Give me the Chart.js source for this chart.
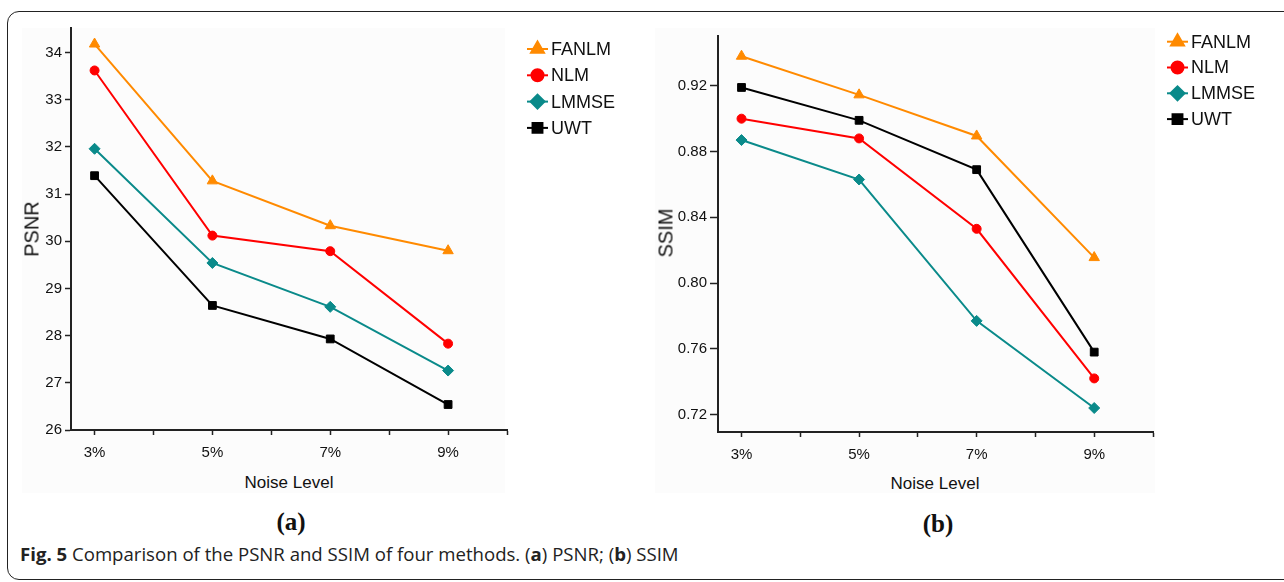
<!DOCTYPE html>
<html>
<head>
<meta charset="utf-8">
<script src="https://cdn.jsdelivr.net/npm/chart.js@4.4.1/dist/chart.umd.min.js"></script>
<style>
  body { margin: 0; background: #fff; width: 1284px; height: 582px; overflow: hidden; position: relative;
         font-family: "Liberation Sans", Arial, sans-serif; }
  .frame { position: absolute; left: 7px; top: 11px; width: 1310px; height: 569px; box-sizing: border-box;
           border: 1.5px solid #222; border-radius: 12px; }
  .panel { position: absolute; top: 28px; height: 465px; background: #fcfcfc; }
  canvas { position: absolute; top: 0; }
  .t { position: absolute; transform: translate(-50%, -50%); white-space: nowrap; color: #111; }
  .axt { font-size: 17px; }
  .rot { font-size: 20px; transform: translate(-50%, -50%) rotate(-90deg); }
  .sub { font-family: "Liberation Serif", "Times New Roman", serif; font-weight: bold; font-size: 25px; }
  .cap { position: absolute; left: 20px; top: 541px; font-family: "Open Sans", "Noto Sans", sans-serif;
         font-size: 18.6px; color: #222; white-space: nowrap; }
</style>
</head>
<body>
<div class="frame"></div>
<div class="panel" style="left:22px;width:483px"></div>
<div class="panel" style="left:655px;width:500px"></div>
<canvas id="chartPsnr" width="640" height="470" style="left:0"></canvas>
<canvas id="chartSsim" width="644" height="472" style="left:640px"></canvas>
<div class="t axt" style="left:289px;top:483px">Noise Level</div>
<div class="t axt" style="left:935px;top:484px">Noise Level</div>
<div class="t rot" style="left:32px;top:229px">PSNR</div>
<div class="t rot" style="left:666px;top:233px">SSIM</div>
<div class="t sub" style="left:291px;top:522px">(a)</div>
<div class="t sub" style="left:938px;top:524px">(b)</div>
<div class="cap"><b>Fig. 5</b> Comparison of the PSNR and SSIM of four methods. (<b>a</b>) PSNR; (<b>b</b>) SSIM</div>

<script>
// noise levels (%)
var noiseLevels = [3, 5, 7, 9];

// PSNR values
var psnrFANLM = [34.18, 31.28, 30.33, 29.80];
var psnrNLM   = [33.62, 30.12, 29.79, 27.83];
var psnrLMMSE = [31.96, 29.54, 28.61, 27.26];
var psnrUWT   = [31.39, 28.64, 27.93, 26.54];

// SSIM values
var ssimFANLM = [0.938, 0.9145, 0.8895, 0.8155];
var ssimNLM   = [0.900, 0.888, 0.833, 0.742];
var ssimLMMSE = [0.887, 0.863, 0.777, 0.724];
var ssimUWT   = [0.919, 0.899, 0.869, 0.758];

var ORANGE = '#ff8a00', RED = '#ff0000', TEAL = '#0a8a8a', BLACK = '#000000';

Chart.defaults.font.family = '"Liberation Sans", Arial, sans-serif';
Chart.defaults.color = '#111';

function pts(values) {
  return noiseLevels.map(function (x, i) { return { x: x, y: values[i] }; });
}

function series(label, values, color, style, radius) {
  return {
    label: label,
    data: pts(values),
    borderColor: color,
    backgroundColor: color,
    borderWidth: 2,
    pointStyle: style,
    pointRadius: radius,
    pointBackgroundColor: color,
    pointBorderColor: color,
    pointBorderWidth: 1,
    tension: 0
  };
}

function drawMarker(ctx, style, x, y, r, color) {
  ctx.fillStyle = color;
  ctx.strokeStyle = color;
  if (Chart.helpers && Chart.helpers.drawPoint) {
    Chart.helpers.drawPoint(ctx, { pointStyle: style, radius: r, rotation: 0, borderWidth: 1 }, x, y);
  } else {
    ctx.beginPath(); ctx.arc(x, y, r, 0, Math.PI * 2); ctx.fill();
  }
}

var insideLegend = {
  id: 'insideLegend',
  afterDatasetsDraw: function (chart, args, opts) {
    var ctx = chart.ctx;
    ctx.save();
    ctx.font = '18px "Liberation Sans", Arial, sans-serif';
    ctx.textBaseline = 'middle';
    chart.data.datasets.forEach(function (ds, i) {
      var y = opts.y + i * opts.gap;
      ctx.strokeStyle = ds.borderColor;
      ctx.lineWidth = 2;
      ctx.beginPath(); ctx.moveTo(opts.x, y); ctx.lineTo(opts.x + 21, y); ctx.stroke();
      drawMarker(ctx, ds.pointStyle, opts.x + 10.5, y, ds.pointRadius + 1.5, ds.borderColor);
      ctx.fillStyle = '#111';
      ctx.fillText(ds.label, opts.x + 24, y + 1);
    });
    ctx.restore();
  }
};

function makeChart(id, datasets, y, legendPos, pad) {
  return new Chart(document.getElementById(id).getContext('2d'), {
    type: 'line',
    data: { datasets: datasets },
    plugins: [insideLegend],
    options: {
      responsive: false,
      animation: false,
      layout: { padding: { left: 0, right: pad.right, top: pad.top, bottom: 0 } },
      plugins: {
        legend: { display: false },
        tooltip: { enabled: false },
        insideLegend: legendPos
      },
      scales: {
        x: {
          type: 'linear',
          min: 2.6,
          max: 10,
          afterFit: function (s) { s.height = 40; },
          border: { display: true, color: '#222', width: 2 },
          grid: { drawOnChartArea: false, drawTicks: true, tickLength: 5, tickColor: '#222', tickWidth: 1.5 },
          ticks: {
            stepSize: 1,
            autoSkip: false,
            maxRotation: 0,
            includeBounds: false,
            padding: 9,
            font: { size: 15 },
            color: '#111',
            callback: function (v) { return v % 2 === 1 ? v + '%' : ''; }
          }
        },
        y: {
          min: y.min,
          max: y.max,
          afterFit: function (s) { s.width = pad.left; },
          border: { display: true, color: '#222', width: 2 },
          grid: { drawOnChartArea: false, drawTicks: true, tickLength: y.tick, tickColor: '#222', tickWidth: 1.5 },
          ticks: {
            stepSize: y.step,
            includeBounds: false,
            padding: 3,
            font: { size: 15 },
            color: '#111',
            callback: y.format
          }
        }
      }
    }
  });
}

makeChart('chartPsnr', [
  series('FANLM', psnrFANLM, ORANGE, 'triangle', 6),
  series('NLM', psnrNLM, RED, 'circle', 4.5),
  series('LMMSE', psnrLMMSE, TEAL, 'rectRot', 5.5),
  series('UWT', psnrUWT, BLACK, 'rect', 5.5)
], { min: 26, max: 34.52, step: 1, tick: 6, format: function (v) { return v; } },
   { x: 527, y: 49, gap: 26.3 },
   { left: 71, right: 133, top: 28 });

makeChart('chartSsim', [
  series('FANLM', ssimFANLM, ORANGE, 'triangle', 6),
  series('NLM', ssimNLM, RED, 'circle', 4.5),
  series('LMMSE', ssimLMMSE, TEAL, 'rectRot', 5.5),
  series('UWT', ssimUWT, BLACK, 'rect', 5.5)
], { min: 0.7094, max: 0.9503, step: 0.04, tick: 8, format: function (v) { return v.toFixed(2); } },
   { x: 527, y: 41.7, gap: 25.8 },
   { left: 78, right: 131, top: 36 });
</script>
</body>
</html>
